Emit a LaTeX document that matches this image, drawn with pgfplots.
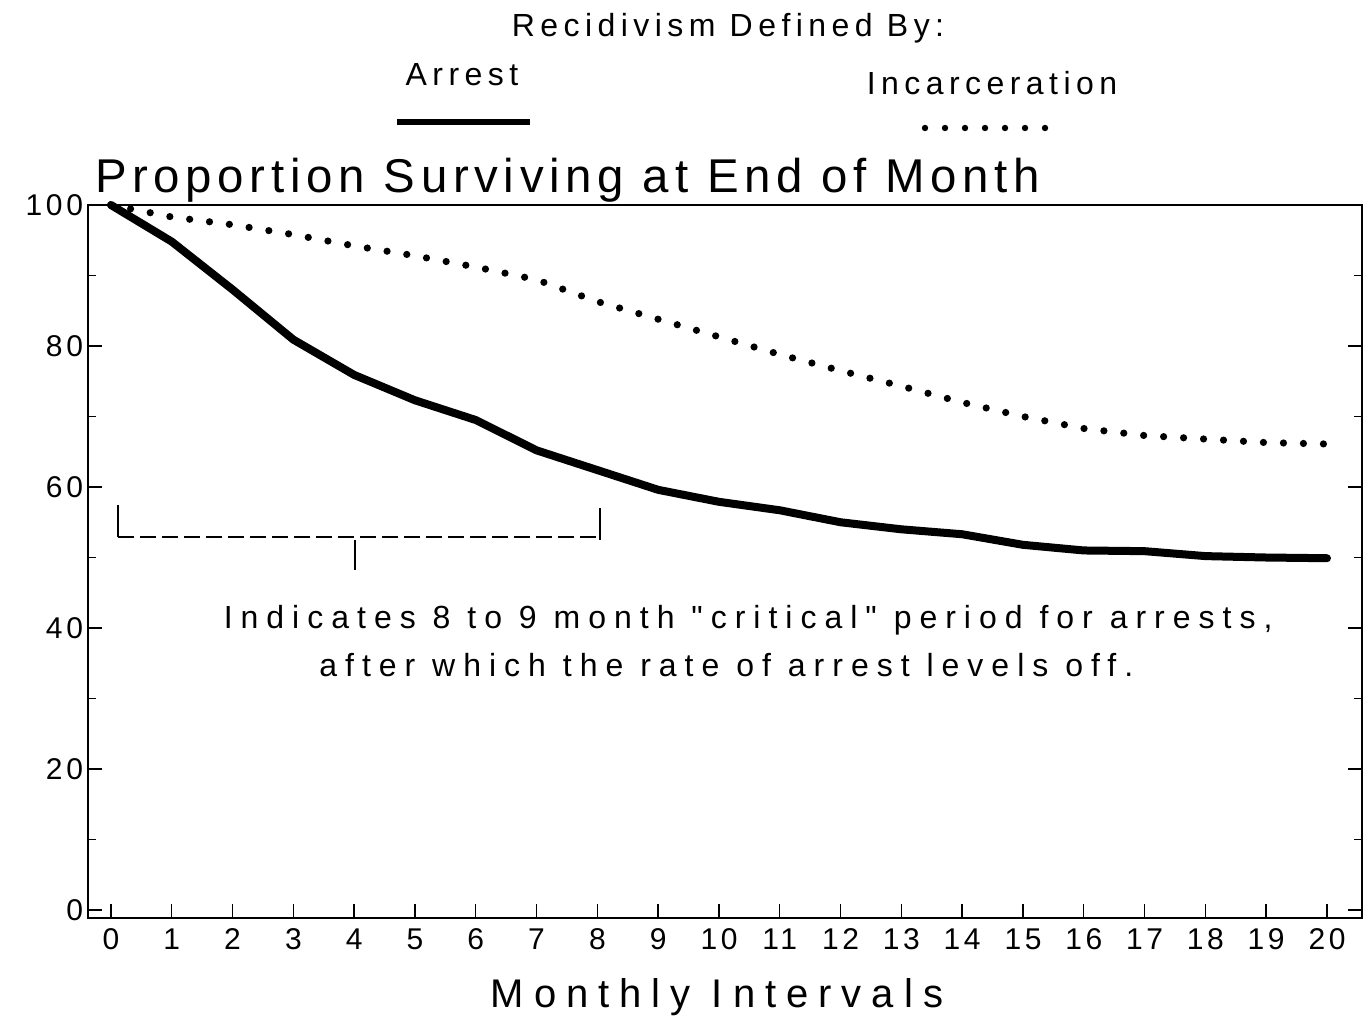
\documentclass[border=0pt]{standalone}
\usepackage{fontspec}
\setmainfont{Liberation Sans}
\newfontfamily\spaced[LetterSpace=12]{Liberation Sans}
\newfontfamily\legfont[LetterSpace=17]{Liberation Sans}
\newfontfamily\wide[LetterSpace=25]{Liberation Sans}
\newfontfamily\xlab[LetterSpace=25]{Liberation Sans}
\usepackage{pgfplots}
\pgfplotsset{compat=1.18}
\pgfplotstableread{
month surv
0 100
1 94.8
2 88.0
3 80.9
4 75.9
5 72.3
6 69.5
7 65.2
8 62.4
9 59.6
10 57.9
11 56.7
12 55.0
13 54.0
14 53.3
15 51.8
16 51.0
17 50.9
18 50.2
19 50.0
20 49.9
}\arrest
\pgfplotstableread{
month surv
0 100
1 98.3
2 97.2
3 95.8
4 94.2
5 92.8
6 91.2
7 89.4
8 86.3
9 83.8
10 81.3
11 78.8
12 76.5
13 74.3
14 72.0
15 70.0
16 68.3
17 67.3
18 66.8
19 66.3
20 66.1
}\incarc
\begin{document}
\begin{tikzpicture}
\begin{axis}[
  at={(0,0)}, anchor=south west,
  scale only axis, width=637bp, height=356.5bp,
  xmin=-0.378, xmax=20.576, ymin=-1.13, ymax=100,
  xtick={0,...,20}, ytick={0,20,...,100},
  minor ytick={10,30,...,90},
  xtick pos=bottom,
  tick align=inside,
  major tick length=7bp, minor tick length=4bp,
  axis line style={line width=0.7bp},
  tick style={line width=0.7bp, black},
  /pgf/number format/assume math mode=true,
  tick label style={font=\spaced\fontsize{15bp}{18bp}\selectfont},
  yticklabel style={xshift=1bp},
  xticklabel style={yshift=-2bp},
  clip=false,
]
\addplot[black, line width=4bp, line join=round, line cap=round] table[x=month,y=surv] {\arrest};
\addplot[black, line width=3.6bp, line cap=round, dash pattern=on 0pt off 10bp] table[x=month,y=surv] {\incarc};
\draw[line width=0.8bp] (axis cs:0.12,57.4) -- (axis cs:0.12,52.9);
\draw[line width=0.6bp, dash pattern=on 8bp off 3bp] (axis cs:0.12,52.9) -- (axis cs:8.04,52.9);
\draw[line width=0.8bp] (axis cs:8.04,57.0) -- (axis cs:8.04,52.5);
\draw[line width=0.8bp] (axis cs:4.01,52.5) -- (axis cs:4.01,48.2);
\node[font=\wide\fontsize{16bp}{19bp}\selectfont] at (axis cs:10.48,41.1) {Indicates 8 to 9 month "critical" period for arrests,};
\node[font=\wide\fontsize{16bp}{19bp}\selectfont] at (axis cs:10.12,34.8) {after which the rate of arrest levels off.};
\end{axis}
\node[font=\legfont\fontsize{16bp}{19bp}\selectfont] at (320bp,445bp) {Recidivism Defined By:};
\node[font=\legfont\fontsize{16bp}{19bp}\selectfont] at (187bp,421.5bp) {Arrest};
\node[font=\legfont\fontsize{16bp}{19bp}\selectfont] at (452bp,417.5bp) {Incarceration};
\draw[line width=3bp] (154.5bp,398bp) -- (221bp,398bp);
\draw[line width=3.2bp, line cap=round, dash pattern=on 0pt off 10bp] (418.5bp,395bp) -- (481bp,395bp);
\node[anchor=west, font=\spaced\fontsize{23.7bp}{28bp}\selectfont] at (0bp,369bp) {Proportion Surviving at End of Month};
\node[font=\xlab\fontsize{20bp}{24bp}\selectfont] at (314.5bp,-39.5bp) {Monthly Intervals};
\pgfresetboundingbox
\useasboundingbox (-44bp,-49bp) rectangle (642bp,459bp);
\end{tikzpicture}
\end{document}
